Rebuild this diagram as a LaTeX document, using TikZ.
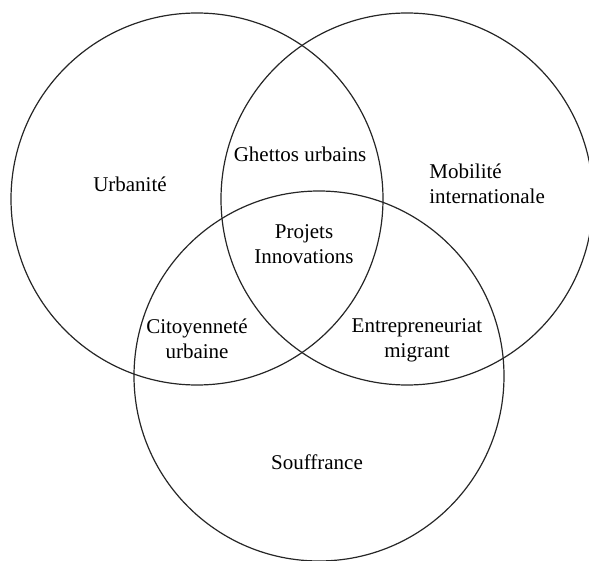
\documentclass[tikz,border=0pt]{standalone}
\usepackage{fontspec}
\setmainfont{Liberation Serif}
\begin{document}
\begin{tikzpicture}[x=0.5pt,y=-0.5pt,
  ring/.style={draw=black!85,line width=0.6pt},
  lbl/.style={inner sep=0pt,font=\fontsize{10.5}{12.5}\selectfont,align=center},
  lbll/.style={inner sep=0pt,font=\fontsize{10.5}{12.5}\selectfont,align=left}]
\useasboundingbox (0,0) rectangle (589,561);
\clip (0,0) rectangle (589,561);
\draw[ring] (197,199) circle[radius=93pt];
\draw[ring] (407,199) circle[radius=93pt];
\draw[ring] (319,376) circle[radius=92.5pt];
\node[lbl,anchor=base] (urb) at (130,192) {Urbanité};
\node[lbl,anchor=base] (ghet) at (300,162) {Ghettos urbains};
\node[lbll,anchor=west] (mob) at (429,183.4) {Mobilité\\internationale};
\node[lbl] (proj) at (304,244.4) {Projets\\Innovations};
\node[lbl] (cit) at (197,338.4) {Citoyenneté\\urbaine};
\node[lbl] (ent) at (417,340.6) {Entrepreneuriat\\migrant};
\node[lbl,anchor=base] (souf) at (317,469) {Souffrance};
\end{tikzpicture}
\end{document}
